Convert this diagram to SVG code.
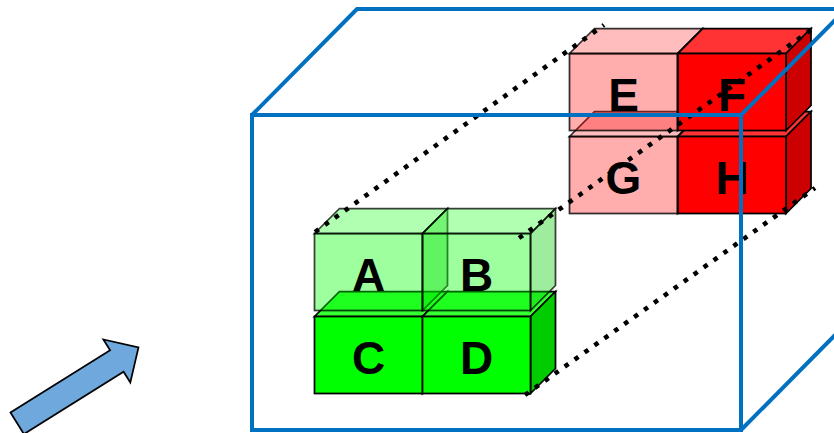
<svg xmlns="http://www.w3.org/2000/svg" width="834" height="433" viewBox="0 0 834 433">
  <style>
    .edge{stroke:#000;stroke-width:1.75;stroke-linejoin:miter}
    .lbl{font-family:"Liberation Sans",Arial,sans-serif;font-weight:bold;font-size:46px;text-anchor:middle;fill:#000}
    /* solid green cubes */
    .gs .f{fill:#00FF00}.gs .t{fill:#33FF33}.gs .s{fill:#00CC00}
    /* see-through green cubes */
    .gt .f{fill:#00FF00;fill-opacity:.38}.gt .t{fill:#33FF33;fill-opacity:.38}.gt .s{fill:#00CC00;fill-opacity:.38}
    .gt .edge{stroke-opacity:.75}
    /* solid red cubes */
    .rs .f{fill:#FF0000}.rs .t{fill:#FF3333}.rs .s{fill:#CC0000}
    /* see-through red cubes */
    .rt .f{fill:#FF0000;fill-opacity:.32}.rt .t{fill:#FF3333;fill-opacity:.32}.rt .s{fill:#CC0000;fill-opacity:.32}
    .rt .edge{stroke-opacity:.8}
    .box{fill:none;stroke:#0070C0;stroke-width:4;stroke-linejoin:miter}
    .proj{fill:none;stroke:#000;stroke-width:4.6;stroke-dasharray:4.6 7.6}
    .arrow{fill:#6FA8DC;stroke:#000;stroke-width:1.75;stroke-linejoin:miter}
  </style>

  <!-- viewing direction arrow -->
  <g id="view-arrow">
    <path class="arrow" transform="translate(17.2,423.3) rotate(-32)"
          d="M0,-12.7 L117.5,-12.7 L117.5,-25.4 L143,0 L117.5,25.4 L117.5,12.7 L0,12.7 Z"/>
  </g>

  <!-- green block: lower row solid, upper row see-through -->
  <g id="cube-C" class="gs" transform="translate(314.5,316.5)">
    <polygon class="t edge" points="0,0 25,-25 133,-25 108,0"/>
    <polygon class="s edge" points="108,0 133,-25 133,52 108,77"/>
    <rect class="f edge" width="108" height="77"/>
    <text class="lbl" x="54" y="57">C</text>
  </g>
  <g id="cube-D" class="gs" transform="translate(422.5,316.5)">
    <polygon class="t edge" points="0,0 25,-25 133,-25 108,0"/>
    <polygon class="s edge" points="108,0 133,-25 133,52 108,77"/>
    <rect class="f edge" width="108" height="77"/>
    <text class="lbl" x="54" y="57">D</text>
  </g>
  <g id="cube-A" class="gt" transform="translate(314.5,233.5)">
    <polygon class="t edge" points="0,0 25,-25 133,-25 108,0"/>
    <polygon class="s edge" points="108,0 133,-25 133,52 108,77"/>
    <rect class="f edge" width="108" height="77"/>
    <text class="lbl" x="54" y="57">A</text>
  </g>
  <g id="cube-B" class="gt" transform="translate(422.5,233.5)">
    <polygon class="t edge" points="0,0 25,-25 133,-25 108,0"/>
    <polygon class="s edge" points="108,0 133,-25 133,52 108,77"/>
    <rect class="f edge" width="108" height="77"/>
    <text class="lbl" x="54" y="57">B</text>
  </g>

  <!-- red block: left column see-through, right column solid -->
  <g id="cube-G" class="rt" transform="translate(569.5,136.5)">
    <polygon class="t edge" points="0,0 25,-25 133,-25 108,0"/>
    <polygon class="s edge" points="108,0 133,-25 133,52 108,77"/>
    <rect class="f edge" width="108" height="77"/>
    <text class="lbl" x="54" y="57">G</text>
  </g>
  <g id="cube-H" class="rs" transform="translate(678,136.5)">
    <polygon class="t edge" points="0,0 25,-25 133,-25 108,0"/>
    <polygon class="s edge" points="108,0 133,-25 133,52 108,77"/>
    <rect class="f edge" width="108" height="77"/>
    <text class="lbl" x="54" y="57">H</text>
  </g>
  <g id="cube-E" class="rt" transform="translate(569.5,53.5)">
    <polygon class="t edge" points="0,0 25,-25 133,-25 108,0"/>
    <polygon class="s edge" points="108,0 133,-25 133,52 108,77"/>
    <rect class="f edge" width="108" height="77"/>
    <text class="lbl" x="54" y="57">E</text>
  </g>
  <g id="cube-F" class="rs" transform="translate(678,53.5)">
    <polygon class="t edge" points="0,0 25,-25 133,-25 108,0"/>
    <polygon class="s edge" points="108,0 133,-25 133,52 108,77"/>
    <rect class="f edge" width="108" height="77"/>
    <text class="lbl" x="54" y="57">F</text>
  </g>

  <!-- dotted projection lines between the two blocks -->
  <g id="connectors">
    <line class="proj" x1="315" y1="232" x2="604" y2="25"/>
    <line class="proj" x1="519" y1="238" x2="811" y2="30"/>
    <line class="proj" x1="525" y1="395" x2="815" y2="188"/>
  </g>

  <!-- enclosing box in oblique view -->
  <g id="box">
    <rect class="box" x="252" y="115" width="489" height="315"/>
    <polyline class="box" points="252,115 357,9 840,9"/>
    <line class="box" x1="741" y1="115" x2="846" y2="9"/>
    <line class="box" x1="741" y1="430" x2="846" y2="324"/>
  </g>
</svg>
